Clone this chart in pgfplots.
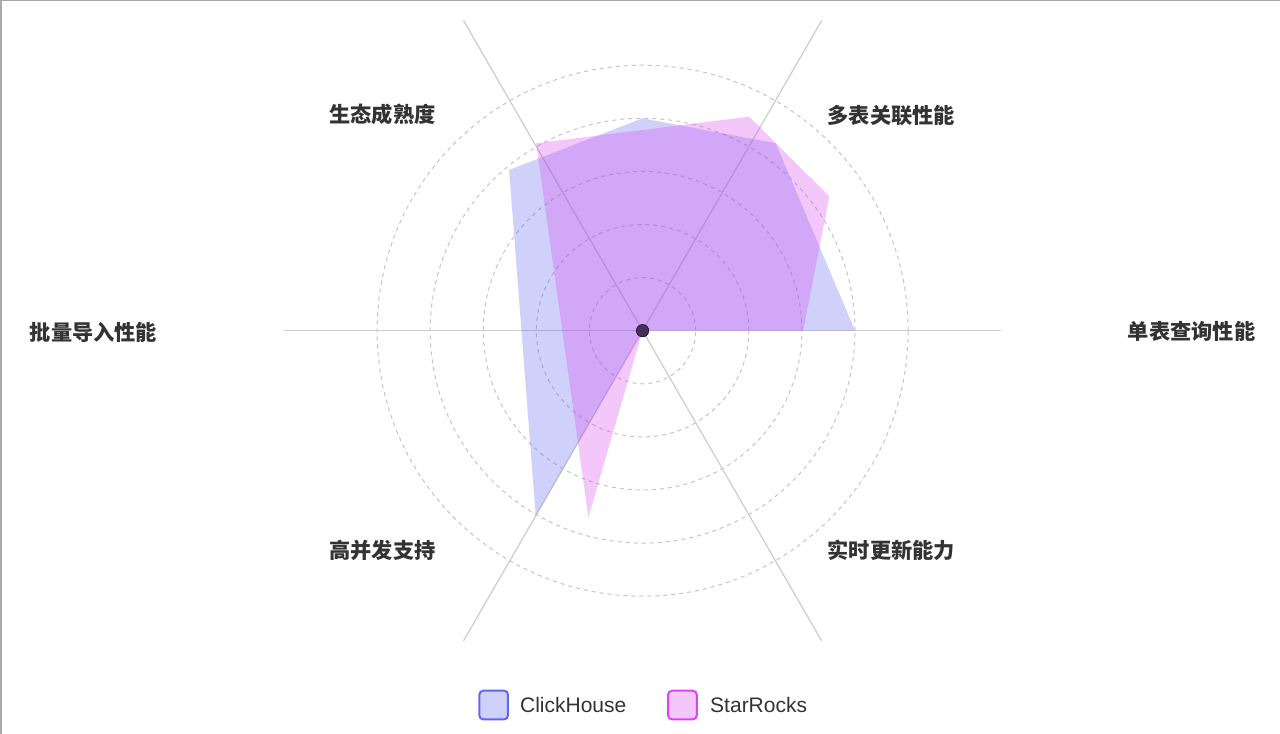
\documentclass[border=0pt]{standalone}
\usepackage{pgfplots}
\pgfplotsset{compat=1.18}
\usepackage{fontspec}
\setmainfont{Liberation Sans}
\newfontfamily\cjk{Noto Sans CJK SC}

\definecolor{clickc}{HTML}{6366F1}
\definecolor{starc}{HTML}{D946EF}
\definecolor{spokec}{HTML}{CCCCCC}
\definecolor{ringc}{HTML}{C4C4C4}
\definecolor{txt}{HTML}{333333}
\definecolor{edgec}{HTML}{AAAAAA}
\definecolor{markc}{HTML}{46305A}

\begin{document}
\begin{tikzpicture}
\begin{axis}[
    x=2.655bp, y=2.655bp,
    xmin=-242.03, xmax=240.08, ymin=-151.90, ymax=124.56,
    hide axis, clip=false,
]
% rings (20, 40, ..., 100)
\pgfplotsinvokeforeach{1,...,5}{
  \draw[ringc, line width=1bp, dash pattern=on 4bp off 4bp]
    (axis cs:0,0) circle[radius=#1*53.1bp];
}
% spokes
\pgfplotsinvokeforeach{0,60,120,180,240,300}{
  \draw[spokec, line width=1.2bp]
    (axis cs:0,0) -- (axis cs:{134.9*cos(#1)},{134.9*sin(#1)});
}

% ClickHouse (angle, value)
\addplot[draw=none, fill=clickc, fill opacity=0.3, data cs=polar]
  coordinates {(0,80) (54.6,86.6) (90,80) (129.7,78.7) (240,80.5) (300,0)} -- cycle;
% StarRocks
\addplot[draw=none, fill=starc, fill opacity=0.3, data cs=polar]
  coordinates {(0,60.5) (35.7,86.6) (63.5,90.1) (119.6,81.2) (253.8,73.2) (300,0)} -- cycle;

\addplot[only marks, mark=*, mark size=6.3bp, mark options={fill=markc, draw=none}, data cs=polar]
  coordinates {(300,0)};

% indicator names
\tikzset{lab/.style={font=\cjk\bfseries\fontsize{21.3}{24}\selectfont, text=txt, inner sep=0}}
\node[lab] at (axis cs:206.8,-0.4) {单表查询性能};
\node[lab] at (axis cs:93.7,81.1) {多表关联性能};
\node[lab] at (axis cs:-98.0,81.4) {生态成熟度};
\node[lab] at (axis cs:-206.8,-0.5) {批量导入性能};
\node[lab] at (axis cs:-98.0,-82.6) {高并发支持};
\node[lab] at (axis cs:93.7,-82.6) {实时更新能力};

% legend
\tikzset{key/.style={line width=2bp, rounded corners=4bp, minimum size=28.7bp, inner sep=0},
         keytxt/.style={anchor=base west, inner sep=0, text=txt, font=\fontsize{21.08}{25}\selectfont}}
\node[key, draw=clickc, fill=clickc!30] at (axis cs:-56.1,-141.0) {};
\node[keytxt] at (axis cs:-46.2,-143.7) {ClickHouse};
\node[key, draw=starc, fill=starc!30] at (axis cs:15.0,-141.0) {};
\node[keytxt] at (axis cs:25.4,-143.7) {StarRocks};

\coordinate (bl) at (rel axis cs:0,0);
\coordinate (tl) at (rel axis cs:0,1);
\coordinate (tr) at (rel axis cs:1,1);
\end{axis}
\pgfresetboundingbox
\path[use as bounding box] (bl) rectangle (tr);
\draw[edgec, line width=1.5bp] ([xshift=0.75bp]bl) -- ([xshift=0.75bp,yshift=-0.75bp]tl) -- ([yshift=-0.75bp]tr);
\end{tikzpicture}
\end{document}
